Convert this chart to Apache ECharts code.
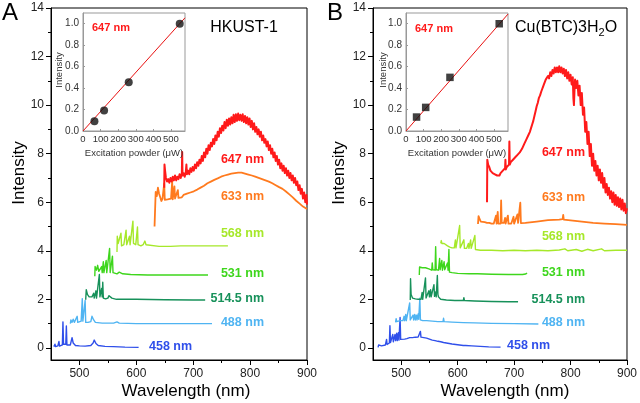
<!DOCTYPE html>
<html><head><meta charset="utf-8">
<script src="https://cdn.jsdelivr.net/npm/echarts@6/dist/echarts.min.js"></script>
<style>html,body{margin:0;padding:0;background:#fff}#c{width:640px;height:403px}</style>
</head><body><div id="c"></div>
<script>
// ---------- tick values ----------
const xMajor = [500, 600, 700, 800, 900];
const xMinor = [550, 650, 750, 850];
const yMajor = [0, 2, 4, 6, 8, 10, 12, 14];
const yMinor = [1, 3, 5, 7, 9, 11, 13];
const insetXTicks = [0, 100, 200, 300, 400, 500];
const insetYTicks = [0, 0.2, 0.4, 0.6, 0.8, 1.0];

// ---------- Panel A spectra (HKUST-1) [wavelength nm, intensity] ----------
const A458 = [[455,0.05],[457,0.15],[458,0.05],[462,0.08],[464,0.26],[465,0.07],[468,0.1],[470,0.12],[471,1.07],[472,0.15],[474,0.2],[476,0.15],[477,0.9],[478,0.12],[481,0.1],[484,0.12],[487,0.42],[489,0.2],[491,0.25],[493,0.1],[500,0.08],[510,0.07],[520,0.1],[524,0.2],[526,0.32],[529,0.18],[533,0.1],[545,0.06],[560,0.05],[580,0.03],[604,0.02]];
const A488 = [[484,1.0],[485,1.15],[487,1.05],[489,1.18],[491,1.05],[494,1.02],[496,1.3],[497,1.05],[500,1.05],[503,1.1],[505,2.03],[506,1.1],[508,1.05],[510,1.95],[511,1.05],[515,1.05],[520,1.08],[522,1.3],[523,1.25],[525,1.15],[526,1.2],[528,1.05],[540,1.02],[560,1.02],[566,1.07],[570,1.02],[600,1.0],[650,1.0],[700,1.0],[733,1.0]];
const A5145 = [[511,1.98],[512,2.4],[514,2.2],[515,2.15],[517,2.1],[519,2.05],[522,2.1],[525,2.25],[526,2.05],[529,2.35],[530,2.05],[533,2.1],[535,3.02],[536,2.1],[538,2.1],[539,2.45],[540,2.1],[541,2.7],[542,2.05],[546,2.02],[550,2.05],[552,2.15],[553,2.2],[555,2.1],[557,2.05],[565,2.0],[580,2.0],[600,2.0],[650,1.98],[700,1.97],[721,1.97]];
const A531 = [[527,2.95],[527.5,3.35],[530,3.2],[532,3.4],[534,3.15],[537,3.1],[539,3.35],[540,3.1],[542,3.55],[543,3.1],[545,3.1],[547,3.6],[548,3.1],[551,3.1],[553,4.1],[554,3.1],[556,3.1],[558,3.78],[559,3.1],[562,3.05],[566,3.05],[570,3.12],[573,3.15],[576,3.05],[590,3.02],[620,3.0],[660,3.0],[700,3.0],[726,3.0]];
const A568 = [[566,3.95],[566.5,4.6],[568,4.3],[571,4.25],[573,4.72],[574,4.2],[578,4.25],[582,4.85],[583,4.25],[586,4.3],[588,4.6],[589,4.25],[592,4.3],[594,5.22],[595,4.3],[599,4.25],[602,4.98],[603,4.25],[608,4.2],[612,4.25],[615,4.4],[617,4.25],[620,4.2],[640,4.18],[660,4.18],[678,4.2],[681,4.28],[684,4.2],[720,4.2],[740,4.2],[761,4.2]];
const A633 = [[632,5.0],[633.5,5.05],[634,6.42],[636,6.25],[638,6.6],[640,6.35],[642,6.2],[644,6.05],[646,6.15],[648,6.1],[649,6.77],[650,6.1],[652,6.05],[655,6.12],[658,6.05],[661,6.15],[663,6.85],[664,6.12],[666,6.15],[667,6.65],[668,6.15],[671,6.2],[673,6.5],[674,6.18],[677,6.25],[680,6.2],[683,6.3],[686,6.25],[689,6.35],[692,6.3],[695,6.4],[698,6.38],[701,6.45],[704,6.45],[707,6.52],[710,6.5],[713,6.6],[716,6.62],[719,6.68],[722,6.7],[725,6.78],[728,6.78],[731,6.85],[734,6.85],[737,6.92],[740,6.9],[743,6.98],[746,6.98],[749,7.05],[752,7.03],[755,7.1],[758,7.08],[761,7.14],[764,7.12],[767,7.18],[770,7.15],[773,7.2],[776,7.17],[779,7.22],[782,7.2],[785,7.22],[788,7.16],[791,7.18],[794,7.12],[797,7.14],[800,7.08],[803,7.1],[806,7.03],[809,7.05],[812,7.0],[815,7.0],[818,6.94],[821,6.95],[824,6.9],[827,6.9],[830,6.86],[833,6.85],[836,6.8],[839,6.78],[842,6.72],[845,6.7],[848,6.65],[851,6.62],[854,6.58],[857,6.55],[860,6.48],[863,6.44],[866,6.37],[869,6.32],[872,6.25],[875,6.2],[878,6.12],[881,6.06],[884,6.0],[887,5.94],[890,5.88],[893,5.82],[896,5.77],[900,5.72]];
const A647 = [[649,6.6],[649.5,7.55],[650.5,7.3],[652,7.0],[654,6.85],[656,6.95],[658,6.8],[660,7.0],[662,6.85],[664,7.05],[666,6.9],[668,7.1],[670,6.9],[672,7.05],[674,6.95],[676,7.15],[678,7.0],[680,7.2],[680.6,8.07],[681.2,7.1],[683,7.2],[685,7.05],[687,7.25],[688,7.55],[689,7.15],[691,7.3],[693,7.15],[695,7.4],[697,7.25],[699,7.45],[701,7.3],[703,7.55],[705,7.4],[707,7.65],[709,7.5],[711,7.75],[713,7.6],[715,7.9],[717,7.7],[719,8.05],[721,7.85],[723,8.2],[725,8.0],[727,8.35],[729,8.15],[731,8.45],[733,8.3],[735,8.6],[737,8.4],[739,8.75],[741,8.55],[743,8.9],[745,8.7],[747,9.05],[749,8.85],[751,9.15],[753,8.95],[755,9.3],[757,9.05],[759,9.4],[761,9.15],[763,9.45],[765,9.2],[767,9.5],[769,9.25],[771,9.6],[773,9.3],[775,9.62],[777,9.35],[779,9.65],[781,9.38],[783,9.6],[785,9.35],[787,9.62],[789,9.3],[791,9.55],[793,9.25],[795,9.5],[797,9.2],[799,9.45],[801,9.1],[803,9.35],[805,9.0],[807,9.25],[809,8.9],[811,9.1],[813,8.8],[815,9.0],[817,8.7],[819,8.9],[821,8.55],[823,8.75],[825,8.45],[827,8.6],[829,8.3],[831,8.5],[833,8.15],[835,8.35],[837,8.0],[839,8.2],[841,7.85],[843,8.05],[845,7.7],[847,7.9],[849,7.55],[851,7.75],[853,7.4],[855,7.6],[857,7.3],[859,7.5],[861,7.2],[863,7.4],[865,7.1],[867,7.3],[869,7.0],[871,7.2],[873,6.9],[875,7.1],[877,6.8],[879,7.0],[881,6.7],[883,6.85],[885,6.5],[887,6.7],[889,6.35],[891,6.55],[893,6.15],[895,6.4],[897,6.0],[899,6.3],[900,5.9]];

// ---------- Panel B spectra (Cu(BTC)3H2O) ----------
const B458 = [[459,0.02],[460,0.12],[462,0.05],[465,0.08],[468,0.1],[472,0.12],[474,0.35],[475,0.14],[477,0.18],[479,0.2],[480,0.91],[481,0.22],[483,0.25],[485,0.55],[486,0.25],[488,0.28],[489,0.55],[490,0.3],[492,0.6],[493,0.3],[495,0.62],[496,0.32],[498,1.25],[499,0.35],[502,0.33],[506,0.36],[510,0.38],[515,0.42],[520,0.42],[525,0.44],[530,0.45],[533,0.44],[534,0.68],[535,0.44],[540,0.42],[545,0.4],[550,0.36],[555,0.32],[560,0.3],[565,0.27],[570,0.25],[575,0.22],[580,0.2],[590,0.16],[600,0.13],[610,0.1],[612,0.16],[614,0.1],[625,0.08],[640,0.06],[655,0.04],[676,0.03]];
const B488 = [[490,1.05],[491,1.2],[492,1.08],[495,1.1],[498,1.12],[503,1.12],[505,1.3],[506,1.12],[508,1.38],[509,1.12],[512,1.15],[515,1.85],[516,1.15],[519,1.15],[521,1.35],[522,1.15],[524,1.38],[525,1.15],[527,1.35],[528,1.15],[530,1.4],[531,1.18],[533,2.05],[534,1.15],[538,1.12],[545,1.12],[555,1.1],[565,1.08],[574,1.08],[575,1.22],[576,1.08],[590,1.06],[610,1.04],[630,1.03],[660,1.01],[700,1.0],[743,0.98]];
const B5145 = [[516,1.97],[516.5,2.85],[517.5,2.2],[520,2.05],[525,2.02],[530,2.0],[535,2.0],[537,2.28],[538,2.0],[541,2.05],[543,2.88],[544,2.05],[547,2.1],[549,2.35],[550,2.1],[552,2.4],[553,2.1],[555,2.15],[558,2.6],[559,2.12],[561,2.3],[562,2.1],[564,2.98],[565,2.2],[566,2.1],[570,2.0],[580,1.97],[595,1.95],[610,1.95],[611,2.07],[612,1.95],[630,1.93],[660,1.91],[690,1.9],[707,1.9]];
const B531 = [[532,3.0],[532.5,3.33],[534,3.25],[537,3.3],[540,3.28],[543,3.3],[546,3.25],[549,3.25],[552,3.22],[554,3.2],[555,3.5],[556,3.22],[558,3.25],[560,3.2],[561,4.17],[562,3.22],[564,3.25],[566,3.2],[568,3.68],[569,3.22],[571,3.25],[572,3.6],[573,3.2],[576,3.55],[577,3.22],[580,3.25],[582,3.5],[583,3.2],[584.5,4.05],[585.5,3.12],[590,3.1],[600,3.07],[620,3.05],[635,3.05],[636,3.1],[637,3.05],[660,3.03],[690,3.02],[715,3.02],[720,3.04],[723,3.08]];
const B568 = [[570,4.3],[571,4.42],[572,4.3],[574,4.38],[576,4.3],[578,4.25],[582,4.2],[586,4.15],[590,4.12],[594,4.12],[596,4.45],[597,4.12],[600,4.12],[603.5,5.04],[604.5,4.12],[608,4.1],[611,4.45],[612,4.1],[616,4.1],[619,4.3],[620,4.1],[623,4.45],[624,4.1],[627,4.1],[630.5,4.63],[631.5,4.05],[640,4.02],[660,4.02],[680,4.0],[700,4.02],[720,4.0],[740,4.02],[760,4.0],[780,4.03],[790,4.08],[795,4.0],[810,4.05],[820,3.98],[830,4.06],[840,4.0],[855,4.08],[860,4.0],[880,4.02],[900,4.02]];
const B633 = [[636,5.1],[637,5.43],[639,5.3],[641,5.2],[644,5.22],[648,5.18],[652,5.15],[656,5.15],[660,5.12],[664,5.12],[667,5.12],[668,5.45],[669,5.12],[671,5.6],[672,5.12],[676,5.12],[677,6.07],[678,5.15],[682,5.15],[684,5.35],[685,5.12],[688,5.12],[689,5.45],[690,5.12],[695,5.12],[699,5.4],[700,5.12],[703,5.15],[706,5.5],[707,5.15],[711,5.98],[712,5.14],[720,5.15],[740,5.2],[760,5.26],[780,5.28],[786,5.3],[787,5.48],[788,5.28],[800,5.25],[820,5.2],[840,5.15],[860,5.12],[880,5.1],[900,5.07]];
const B647 = [[652,6.0],[652.5,7.75],[654,7.55],[656,7.45],[658,7.3],[660,7.35],[662,7.2],[664,7.25],[666,7.15],[668,7.2],[670,7.1],[672,7.15],[674,7.1],[676,7.2],[678,7.15],[680,7.3],[682,7.25],[684,7.4],[684.6,7.75],[685.3,7.35],[687,7.45],[689,7.4],[691,7.55],[691.6,8.5],[692.3,7.55],[694,7.65],[696,7.6],[698,7.75],[700,7.7],[702,7.85],[704,7.8],[706,7.95],[708,7.9],[710,8.05],[712,8.05],[714,8.2],[716,8.25],[718,8.4],[720,8.45],[722,8.6],[724,8.65],[726,8.8],[728,8.9],[730,9.05],[732,9.2],[734,9.35],[736,9.55],[738,9.75],[740,9.95],[742,10.1],[744,10.3],[746,10.4],[748,10.55],[750,10.6],[752,10.8],[754,10.85],[756,11.05],[758,11.0],[760,11.2],[762,11.1],[764,11.35],[766,11.2],[768,11.45],[770,11.3],[772,11.55],[774,11.35],[776,11.55],[778,11.35],[780,11.6],[782,11.35],[784,11.55],[786,11.3],[788,11.5],[790,11.2],[792,11.45],[794,11.1],[796,11.35],[798,11.0],[800,11.25],[802,10.85],[804,11.15],[805,10.3],[806,10.0],[807,10.6],[808,11.05],[810,10.7],[812,11.0],[814,10.4],[816,10.8],[818,10.0],[820,10.5],[822,9.6],[824,9.9],[826,8.9],[828,9.3],[830,8.4],[832,8.9],[834,7.9],[836,8.4],[838,7.5],[840,8.0],[842,7.3],[844,7.7],[846,7.1],[848,7.5],[850,6.9],[852,7.35],[854,6.8],[856,7.2],[858,6.6],[860,7.0],[862,6.4],[864,6.75],[866,6.3],[868,6.6],[870,6.15],[872,6.45],[874,6.0],[876,6.4],[878,5.9],[880,6.3],[882,5.85],[884,6.2],[886,5.8],[888,6.15],[890,5.7],[892,6.1],[894,5.65],[896,5.95],[898,5.55],[900,5.75]];

// ---------- Insets: 647 nm intensity vs excitation power ----------
const insetA_power = [65, 120, 260, 550];
const insetA_int = [0.09, 0.19, 0.455, 1.0];
const insetA_fitX = [0, 580];
const insetA_fitY = [0, 1.055];
const insetB_power = [60, 112, 250, 530];
const insetB_int = [0.13, 0.22, 0.50, 1.0];
const insetB_fitX = [0, 580];
const insetB_fitY = [0, 1.09];

// ---------- labels ----------
const lineNames = ['458 nm', '488 nm', '514.5 nm', '531 nm', '568 nm', '633 nm', '647 nm'];
const lineColors = ['#2f4fea', '#4fb4f2', '#17915a', '#3ed61c', '#a6e82a', '#ff7a1e', '#ff1a1a'];
const lineWidths = [1.4, 1.4, 1.4, 1.4, 1.4, 1.8, 2.0];

const F = '"Liberation Sans", Arial, Helvetica, sans-serif';
const chart = echarts.init(document.getElementById('c'), null, {renderer: 'canvas'});

function mainAxes(g) {
  const xs = [
    {gridIndex: g, type: 'value', min: 450, max: 900, position: 'bottom',
     axisLine: {show: true, onZero: false, lineStyle: {color: '#000', width: 1}},
     axisTick: {show: true, customValues: xMajor, length: 5, lineStyle: {color: '#000'}},
     axisLabel: {customValues: xMajor, fontSize: 12, color: '#222', margin: 8, fontFamily: F},
     splitLine: {show: false}},
    {gridIndex: g, type: 'value', min: 450, max: 900, position: 'bottom',
     axisLine: {show: false, onZero: false},
     axisTick: {show: true, customValues: xMinor, length: 3, lineStyle: {color: '#000'}},
     axisLabel: {show: false}, splitLine: {show: false}}
  ];
  const ys = [
    {gridIndex: g, type: 'value', min: -0.5, max: 14, position: 'left',
     axisLine: {show: true, onZero: false, lineStyle: {color: '#000', width: 1}},
     axisTick: {show: true, customValues: yMajor, length: 5, lineStyle: {color: '#000'}},
     axisLabel: {customValues: yMajor, fontSize: 12, color: '#222', margin: 7, fontFamily: F},
     splitLine: {show: false}},
    {gridIndex: g, type: 'value', min: -0.5, max: 14, position: 'left',
     axisLine: {show: false, onZero: false},
     axisTick: {show: true, customValues: yMinor, length: 3, lineStyle: {color: '#000'}},
     axisLabel: {show: false}, splitLine: {show: false}}
  ];
  return {xs, ys};
}
function insetAxes(g) {
  return {
    x: {gridIndex: g, type: 'value', min: 0, max: 580,
        axisLine: {show: true, onZero: false, lineStyle: {color: '#999'}},
        axisTick: {show: true, inside: true, length: 2, customValues: insetXTicks, lineStyle: {color: '#999'}},
        axisLabel: {customValues: insetXTicks, fontSize: 9.5, color: '#333', margin: 3, fontFamily: F},
        splitLine: {show: false}},
    y: {gridIndex: g, type: 'value', min: 0, max: 1.1,
        axisLine: {show: true, onZero: false, lineStyle: {color: '#999'}},
        axisTick: {show: true, inside: true, length: 2, customValues: insetYTicks, lineStyle: {color: '#999'}},
        axisLabel: {customValues: insetYTicks, fontSize: 10, color: '#333', margin: 4, fontFamily: F,
                    formatter: v => v.toFixed(1)},
        splitLine: {show: false}}
  };
}
const mA = mainAxes(0), mB = mainAxes(1), iA = insetAxes(2), iB = insetAxes(3);

function spec(data, color, xi, yi, w) {
  return {type: 'line', data: data, xAxisIndex: xi, yAxisIndex: yi, showSymbol: false, symbol: 'none',
          lineStyle: {color: color, width: w, join: 'round'}, animation: false, z: 3, silent: true};
}
const specA = [A458, A488, A5145, A531, A568, A633, A647];
const specB = [B458, B488, B5145, B531, B568, B633, B647];
const series = [];
specA.forEach((d, i) => series.push(spec(d, lineColors[i], 0, 0, lineWidths[i])));
specB.forEach((d, i) => series.push(spec(d, lineColors[i], 2, 2, lineWidths[i])));
series.push({type: 'line', xAxisIndex: 4, yAxisIndex: 4, data: insetA_fitX.map((x, i) => [x, insetA_fitY[i]]),
  showSymbol: false, symbol: 'none', lineStyle: {color: '#e81010', width: 1}, z: 3});
series.push({type: 'scatter', xAxisIndex: 4, yAxisIndex: 4, data: insetA_power.map((x, i) => [x, insetA_int[i]]),
  symbol: 'circle', symbolSize: 8, itemStyle: {color: '#111'}, z: 4});
series.push({type: 'line', xAxisIndex: 5, yAxisIndex: 5, data: insetB_fitX.map((x, i) => [x, insetB_fitY[i]]),
  showSymbol: false, symbol: 'none', lineStyle: {color: '#e81010', width: 1}, z: 3});
series.push({type: 'scatter', xAxisIndex: 5, yAxisIndex: 5, data: insetB_power.map((x, i) => [x, insetB_int[i]]),
  symbol: 'rect', symbolSize: 7.5, itemStyle: {color: '#111'}, z: 4});

// label placements (pixel), [x, y, align]
const labPosA = [[149, 347, 'left'], [264, 323, 'right'], [264, 299, 'right'], [264, 274, 'right'], [264, 234, 'right'], [264, 197, 'right'], [264, 160, 'right']];
const labPosB = [[507, 346, 'left'], [585, 323, 'right'], [585, 300, 'right'], [585, 273, 'right'], [585, 237, 'right'], [585, 198, 'right'], [585, 153, 'right']];

const graphics = [];
function txt(x, y, text, font, color, align, rot) {
  const o = {type: 'text', x: x, y: y, z: 100, silent: true,
    style: {text: text, font: font, fill: color, align: align || 'left', verticalAlign: 'middle'}};
  if (rot) o.rotation = rot;
  graphics.push(o);
}
lineNames.forEach((n, i) => {
  txt(labPosA[i][0], labPosA[i][1], n, 'bold 12.5px ' + F, lineColors[i], labPosA[i][2]);
  txt(labPosB[i][0], labPosB[i][1], n, 'bold 12.5px ' + F, lineColors[i], labPosB[i][2]);
});
// panel letters and titles
txt(2, 13, 'A', '24px ' + F, '#000', 'left');
txt(327, 13, 'B', '24px ' + F, '#000', 'left');
txt(244, 28, 'HKUST-1', '16px ' + F, '#000', 'center');
const mctx = document.createElement('canvas').getContext('2d');
mctx.font = '16px ' + F;
const w1 = mctx.measureText('Cu(BTC)3H').width;
mctx.font = '11px ' + F;
const w2 = mctx.measureText('2').width;
txt(515, 28, 'Cu(BTC)3H', '16px ' + F, '#000', 'left');
txt(515 + w1, 33, '2', '11px ' + F, '#000', 'left');
txt(515 + w1 + w2, 28, 'O', '16px ' + F, '#000', 'left');
// axis names
txt(19, 173, 'Intensity', '17px ' + F, '#000', 'center', Math.PI / 2);
txt(339, 173, 'Intensity', '17px ' + F, '#000', 'center', Math.PI / 2);
txt(186, 391, 'Wavelength (nm)', '17px ' + F, '#000', 'center');
txt(505, 391, 'Wavelength (nm)', '17px ' + F, '#000', 'center');
// inset texts
txt(92, 28, '647 nm', 'bold 11px ' + F, '#ff1a1a', 'left');
txt(415, 29, '647 nm', 'bold 11px ' + F, '#ff1a1a', 'left');
txt(59, 70, 'Intensity', '9.5px ' + F, '#333', 'center', Math.PI / 2);
txt(383, 70, 'Intensity', '9.5px ' + F, '#333', 'center', Math.PI / 2);
txt(134, 153, 'Excitation powder (\u03bcW)', '9.5px ' + F, '#333', 'center');
txt(457, 153, 'Excitation powder (\u03bcW)', '9.5px ' + F, '#333', 'center');

chart.setOption({
  animation: false,
  backgroundColor: '#fff',
  grid: [
    {left: 51, top: 8, right: 333, bottom: 43, show: true, borderColor: '#000', borderWidth: 1, containLabel: false},
    {left: 373, top: 8, right: 11, bottom: 43, show: true, borderColor: '#000', borderWidth: 1, containLabel: false},
    {left: 83, top: 13, width: 102, height: 118, show: true, borderColor: '#999', borderWidth: 1, backgroundColor: '#fff', containLabel: false},
    {left: 406, top: 13, width: 102, height: 118, show: true, borderColor: '#999', borderWidth: 1, backgroundColor: '#fff', containLabel: false}
  ],
  xAxis: [mA.xs[0], mA.xs[1], mB.xs[0], mB.xs[1], iA.x, iB.x],
  yAxis: [mA.ys[0], mA.ys[1], mB.ys[0], mB.ys[1], iA.y, iB.y],
  series: series,
  graphic: graphics
});
</script></body></html>
